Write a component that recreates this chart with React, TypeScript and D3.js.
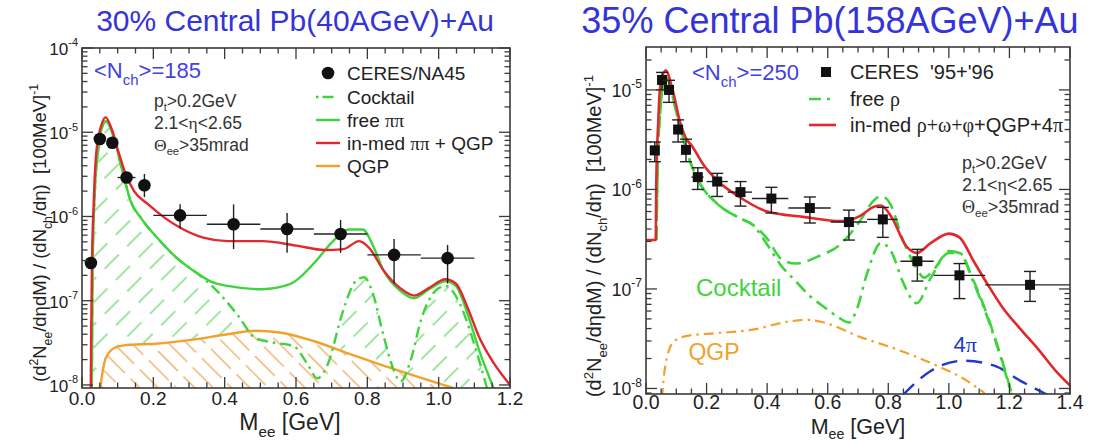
import React from 'react';
import * as d3 from 'd3';

type Pt = [number, number];

const SANS = "'Liberation Sans', Arial, Helvetica, sans-serif";
const SERIF = "'Liberation Serif', 'Times New Roman', serif";

// ---------- Pb(40 AGeV)+Au : CERES/NA45 ----------
const na45Mass = [0.025, 0.05, 0.085, 0.125, 0.175, 0.275, 0.425, 0.575, 0.725, 0.875, 1.025];
const na45Yield = [2.8e-7, 8.3e-6, 7.5e-6, 2.9e-6, 2.35e-6, 1.03e-6, 8.1e-7, 7.1e-7, 6.2e-7, 3.5e-7, 3.2e-7];
const na45Low = [2.8e-7, 8.3e-6, 7.5e-6, 2.9e-6, 1.7e-6, 7.2e-7, 4.1e-7, 3.7e-7, 3.7e-7, 1.6e-7, 1.6e-7];
const na45High = [2.8e-7, 8.3e-6, 7.5e-6, 2.9e-6, 3.2e-6, 1.4e-6, 1.39e-6, 1.1e-6, 9.1e-7, 5.4e-7, 4.6e-7];
const na45BinLow = [0.025, 0.05, 0.085, 0.1, 0.175, 0.2, 0.35, 0.5, 0.65, 0.8, 0.95];
const na45BinHigh = [0.025, 0.05, 0.085, 0.15, 0.175, 0.35, 0.5, 0.65, 0.8, 0.95, 1.1];

const inMedPiPiQgp40: Pt[] = [
  [0.024, 5e-9], [0.026, 5e-8], [0.028, 2.8e-7], [0.033, 1.5e-6], [0.04, 5.7e-6], [0.054, 1.2e-5],
  [0.066, 1.5e-5], [0.083, 1.1e-5], [0.103, 5.7e-6], [0.122, 3.2e-6], [0.146, 2.0e-6], [0.185, 1.4e-6],
  [0.234, 9.5e-7], [0.282, 7.1e-7], [0.34, 5.6e-7], [0.408, 5.1e-7], [0.505, 5.1e-7], [0.602, 4.5e-7],
  [0.68, 4.0e-7], [0.733, 4.1e-7], [0.777, 5.1e-7], [0.806, 4.2e-7], [0.845, 2.3e-7], [0.893, 1.4e-7],
  [0.932, 1.15e-7], [0.971, 1.4e-7], [1.019, 1.8e-7], [1.048, 1.6e-7], [1.082, 8.1e-8], [1.116, 3.5e-8],
  [1.155, 1.8e-8], [1.2, 1.0e-8],
];
const freePiPi40: Pt[] = [
  [0.027, 5e-9], [0.03, 3e-7], [0.036, 2e-6], [0.045, 6e-6], [0.055, 1.1e-5], [0.067, 1.35e-5],
  [0.088, 9e-6], [0.113, 3.5e-6], [0.137, 1.5e-6], [0.166, 9.5e-7], [0.214, 5.4e-7], [0.263, 3.3e-7],
  [0.311, 2.3e-7], [0.36, 1.7e-7], [0.408, 1.5e-7], [0.505, 1.37e-7], [0.583, 1.57e-7], [0.651, 2.8e-7],
  [0.7, 4.9e-7], [0.748, 7e-7], [0.787, 7e-7], [0.816, 4.5e-7], [0.845, 2.3e-7], [0.893, 1.3e-7],
  [0.932, 1.07e-7], [0.971, 1.35e-7], [1.019, 1.7e-7], [1.048, 1.5e-7], [1.082, 6.8e-8], [1.116, 2.4e-8],
  [1.155, 9e-9],
];
const cocktail40: Pt[] = [
  [0.027, 5e-9], [0.03, 3e-7], [0.036, 2e-6], [0.045, 6e-6], [0.055, 1.1e-5], [0.067, 1.35e-5],
  [0.088, 9e-6], [0.113, 3.5e-6], [0.137, 1.5e-6], [0.166, 9.5e-7], [0.214, 5.4e-7], [0.263, 3.3e-7],
  [0.311, 2.3e-7], [0.33, 2.0e-7], [0.379, 1.3e-7], [0.437, 6.7e-8], [0.486, 3.6e-8], [0.534, 3.2e-8],
  [0.593, 2.9e-8], [0.631, 1.8e-8], [0.66, 1.2e-8], [0.69, 1.8e-8], [0.728, 6.7e-8], [0.767, 1.7e-7],
  [0.791, 1.9e-7], [0.816, 1.2e-7], [0.845, 3.9e-8], [0.874, 1.5e-8], [0.893, 1.1e-8], [0.922, 2e-8],
  [0.951, 6e-8], [0.99, 1.3e-7], [1.019, 1.5e-7], [1.058, 9.5e-8], [1.087, 4.5e-8], [1.116, 1.8e-8],
  [1.136, 9e-9],
];
const qgp40: Pt[] = [
  [0.05, 8e-9], [0.055, 1.2e-8], [0.062, 1.8e-8], [0.075, 2.4e-8], [0.09, 2.75e-8], [0.117, 2.95e-8],
  [0.214, 3.1e-8], [0.311, 3.45e-8], [0.408, 4e-8], [0.486, 4.4e-8], [0.554, 4.2e-8], [0.651, 3.3e-8],
  [0.748, 2.35e-8], [0.845, 1.7e-8], [0.942, 1.25e-8], [1.04, 9.2e-9],
];

// ---------- Pb(158 AGeV)+Au : CERES '95+'96 ----------
const ceresMass = [0.029, 0.053, 0.076, 0.106, 0.132, 0.171, 0.235, 0.312, 0.414, 0.541, 0.67, 0.782, 0.896, 1.035, 1.268];
const ceresYield = [2.47e-6, 1.26e-5, 1.0e-5, 4.0e-6, 2.5e-6, 1.33e-6, 1.2e-6, 9.4e-7, 8.1e-7, 6.5e-7, 4.7e-7, 5.0e-7, 1.9e-7, 1.37e-7, 1.1e-7];
const ceresLow = [1.9e-6, 1.0e-5, 7.5e-6, 3.0e-6, 1.9e-6, 1.0e-6, 8.5e-7, 6.8e-7, 5.8e-7, 4.6e-7, 3.1e-7, 3.3e-7, 1.2e-7, 8e-8, 7.5e-8];
const ceresHigh = [3.0e-6, 1.5e-5, 1.25e-5, 5.0e-6, 3.2e-6, 1.65e-6, 1.45e-6, 1.2e-6, 1.05e-6, 8.4e-7, 6.2e-7, 6.6e-7, 2.5e-7, 1.8e-7, 1.5e-7];
const ceresBinLow = [0.029, 0.053, 0.076, 0.106, 0.132, 0.15, 0.2, 0.27, 0.35, 0.47, 0.61, 0.73, 0.84, 0.95, 1.12];
const ceresBinHigh = [0.029, 0.053, 0.076, 0.106, 0.132, 0.19, 0.27, 0.35, 0.47, 0.61, 0.73, 0.83, 0.95, 1.12, 1.4];

const inMedAll158: Pt[] = [
  [0, 3.1e-7], [0.032, 3.1e-7], [0.034, 1.2e-6], [0.04, 4.5e-6], [0.047, 1.09e-5], [0.065, 1.57e-5],
  [0.088, 1.0e-5], [0.112, 4.8e-6], [0.129, 3.4e-6], [0.153, 2.7e-6], [0.188, 1.8e-6], [0.235, 1.23e-6],
  [0.306, 8.5e-7], [0.4, 6.0e-7], [0.518, 5.3e-7], [0.647, 4.8e-7], [0.706, 5.4e-7], [0.753, 6.7e-7],
  [0.776, 6.9e-7], [0.812, 5.2e-7], [0.859, 2.7e-7], [0.894, 2.3e-7], [0.941, 2.9e-7], [1.0, 3.6e-7],
  [1.035, 3.3e-7], [1.082, 1.9e-7], [1.129, 1.1e-7], [1.176, 6.6e-8], [1.235, 4.0e-8], [1.294, 2.5e-8],
  [1.353, 1.5e-8], [1.41, 1.0e-8],
];
const freeRho158: Pt[] = [
  [0.034, 3.1e-7], [0.04, 2.5e-6], [0.047, 6e-6], [0.055, 1.1e-5], [0.065, 1.4e-5], [0.08, 1.1e-5],
  [0.094, 7.2e-6], [0.118, 3.7e-6], [0.141, 2.1e-6], [0.176, 1.18e-6], [0.235, 7.2e-7], [0.306, 5.2e-7],
  [0.353, 4.4e-7], [0.4, 3.2e-7], [0.447, 2.0e-7], [0.494, 1.8e-7], [0.565, 2.1e-7], [0.647, 2.9e-7],
  [0.706, 4.8e-7], [0.753, 7.8e-7], [0.776, 8.6e-7], [0.806, 7.2e-7], [0.847, 3.2e-7], [0.894, 1.6e-7],
  [0.918, 1.3e-7], [0.953, 1.6e-7], [1.0, 2.4e-7], [1.035, 2.3e-7], [1.082, 1.2e-7], [1.129, 5.2e-8],
  [1.176, 1.9e-8], [1.212, 8e-9],
];
const cocktail158: Pt[] = [
  [0.034, 3.1e-7], [0.04, 2.5e-6], [0.047, 6e-6], [0.055, 1.1e-5], [0.065, 1.4e-5], [0.08, 1.1e-5],
  [0.094, 7.2e-6], [0.118, 3.7e-6], [0.141, 2.1e-6], [0.176, 1.18e-6], [0.235, 7.2e-7], [0.306, 5.2e-7],
  [0.353, 4.4e-7], [0.4, 2.8e-7], [0.447, 1.7e-7], [0.494, 1.2e-7], [0.541, 8.5e-8], [0.588, 6.6e-8],
  [0.635, 5.2e-8], [0.67, 4.6e-8], [0.694, 6e-8], [0.729, 1.4e-7], [0.776, 2.9e-7], [0.812, 2.3e-7],
  [0.847, 1.2e-7], [0.894, 7.2e-8], [0.941, 1.3e-7], [1.0, 2.3e-7], [1.035, 2.3e-7], [1.082, 1.15e-7],
  [1.129, 5e-8], [1.176, 1.85e-8], [1.21, 8e-9],
];
const qgp158: Pt[] = [
  [0.053, 8e-9], [0.06, 1.4e-8], [0.07, 2.1e-8], [0.094, 3.0e-8], [0.141, 3.4e-8], [0.235, 3.6e-8],
  [0.353, 3.9e-8], [0.47, 4.7e-8], [0.53, 4.9e-8], [0.588, 4.6e-8], [0.706, 3.3e-8], [0.824, 2.5e-8],
  [0.941, 1.8e-8], [1.059, 1.2e-8], [1.118, 9e-9],
];
const fourPi158: Pt[] = [
  [0.847, 8.5e-9], [0.94, 1.5e-8], [1.047, 1.9e-8], [1.15, 1.7e-8], [1.235, 1.2e-8], [1.33, 8.5e-9],
];

const C = {
  title: '#3434d8',
  nch: '#4242e0',
  green: '#3ed43e',
  hatchGreen: '#78da78',
  red: '#e2282c',
  orange: '#f2a22c',
  hatchOrange: '#eeae68',
  blue: '#2038d0',
  text: '#333333',
  frame: '#3a3a3a',
};

type LinScale = d3.ScaleLinear<number, number>;
type LogScale = d3.ScaleLogarithmic<number, number>;

function Axes({ xs, ys, xMax, tickFs, labelGap, supFs }: { xs: LinScale; ys: LogScale; xMax: number; tickFs: number; labelGap: number; supFs: number }) {
  const [L, R] = xs.range();
  const [B, T] = ys.range();
  const xt = d3.range(0, Math.round(xMax / 0.05) + 1).map((i) => i * 0.05);
  const isMajor = (v: number) => Math.abs(v / 0.2 - Math.round(v / 0.2)) < 1e-6;
  const [dmin, dmax] = ys.domain();
  const yt: { v: number; major: boolean; e: number }[] = [];
  for (let e = Math.floor(Math.log10(dmin)); e <= Math.ceil(Math.log10(dmax)); e++) {
    for (let k = 1; k <= 9; k++) {
      const v = k * Math.pow(10, e);
      if (v >= dmin * 0.999 && v <= dmax * 1.001) yt.push({ v, major: k === 1, e });
    }
  }
  const stroke = C.frame;
  return (
    <g>
      {xt.map((v, i) => {
        const x = xs(v);
        const len = isMajor(v) ? 11 : 5.5;
        return (
          <g key={'x' + i}>
            <line x1={x} x2={x} y1={B} y2={B - len} stroke={stroke} strokeWidth={1.3} />
            <line x1={x} x2={x} y1={T} y2={T + len} stroke={stroke} strokeWidth={1.3} />
          </g>
        );
      })}
      {yt.map((t, i) => {
        const y = ys(t.v);
        const len = t.major ? 11 : 5.5;
        return (
          <g key={'y' + i}>
            <line x1={L} x2={L + len} y1={y} y2={y} stroke={stroke} strokeWidth={1.3} />
            <line x1={R} x2={R - len} y1={y} y2={y} stroke={stroke} strokeWidth={1.3} />
          </g>
        );
      })}
      <rect x={L} y={T} width={R - L} height={B - T} fill="none" stroke={stroke} strokeWidth={1.6} />
      {xt.filter(isMajor).map((v, i) => (
        <text key={'xl' + i} x={xs(v)} y={B + labelGap} textAnchor="middle" fontSize={tickFs} fill="#222">
          {v.toFixed(1)}
        </text>
      ))}
      {yt.filter((t) => t.major).map((t, i) => (
        <text key={'yl' + i} x={L - 4} y={ys(t.v) + tickFs * 0.36} textAnchor="end" fontSize={tickFs * 0.9} fill="#222">
          <tspan>10</tspan>
          <tspan dy={-tickFs * 0.45} fontSize={supFs}>{'-' + Math.abs(t.e)}</tspan>
        </text>
      ))}
    </g>
  );
}

function YTitle({ x, y, fs }: { x: number; y: number; fs: number }) {
  const s = fs * 0.66;
  const up = fs * 0.42;
  const dn = fs * 0.3;
  return (
    <text transform={`translate(${x},${y}) rotate(-90)`} textAnchor="middle" fontSize={fs} fill="#222">
      <tspan>(d</tspan>
      <tspan dy={-up} fontSize={s}>2</tspan>
      <tspan dy={up}>N</tspan>
      <tspan dy={dn} fontSize={s}>ee</tspan>
      <tspan dy={-dn}>/d</tspan>
      <tspan>η</tspan>
      <tspan>dM) / (dN</tspan>
      <tspan dy={dn} fontSize={s}>ch</tspan>
      <tspan dy={-dn}>/d</tspan>
      <tspan>η)</tspan>
      <tspan dx={fs * 0.55}>[100MeV]</tspan>
      <tspan dy={-up} fontSize={s}>-1</tspan>
    </text>
  );
}

function XTitle({ x, y, fs, subDrop }: { x: number; y: number; fs: number; subDrop: number }) {
  return (
    <text x={x} y={y} textAnchor="middle" fontSize={fs} fill="#222">
      <tspan>M</tspan>
      <tspan dy={fs * subDrop} fontSize={fs * 0.66}>ee</tspan>
      <tspan dy={-fs * subDrop}> [GeV]</tspan>
    </text>
  );
}

function Cuts({ x, y, fs, gap }: { x: number; y: number; fs: number; gap: number }) {
  const s = fs * 0.64;
  const dn = fs * 0.22;
  return (
    <g fontSize={fs} fill={C.text}>
      <text x={x} y={y}>
        <tspan>p</tspan>
        <tspan dy={dn} fontSize={s}>t</tspan>
        <tspan dy={-dn}>&gt;0.2GeV</tspan>
      </text>
      <text x={x} y={y + gap}>
        <tspan>2.1&lt;</tspan>
        <tspan fontFamily={SERIF}>η</tspan>
        <tspan>&lt;2.65</tspan>
      </text>
      <text x={x} y={y + 2 * gap}>
        <tspan fontFamily={SERIF}>Θ</tspan>
        <tspan dy={dn} fontSize={s}>ee</tspan>
        <tspan dy={-dn}>&gt;35mrad</tspan>
      </text>
    </g>
  );
}

function Nch({ x, y, fs, value }: { x: number; y: number; fs: number; value: string }) {
  return (
    <text x={x} y={y} fontSize={fs} fill={C.nch}>
      <tspan>&lt;N</tspan>
      <tspan dy={fs * 0.32} fontSize={fs * 0.68}>ch</tspan>
      <tspan dy={-fs * 0.32}>&gt;={value}</tspan>
    </text>
  );
}

function Panel40() {
  const xs = d3.scaleLinear().domain([0, 1.2]).range([82, 510]);
  const ys = d3.scaleLog().domain([0.92e-8, 1e-4]).range([388, 48]);
  const [B] = ys.range();
  const line = d3.line<Pt>().x((d) => xs(d[0])).y((d) => ys(d[1])).curve(d3.curveMonotoneX);
  const area = d3.area<Pt>().x((d) => xs(d[0])).y0(B + 5).y1((d) => ys(d[1])).curve(d3.curveMonotoneX);
  return (
    <g>
      <defs>
        <clipPath id="clip40">
          <rect x={82} y={48} width={428} height={340} />
        </clipPath>
      </defs>
      <text x={295} y={31} textAnchor="middle" fontSize={30} fill={C.title}>30% Central Pb(40AGeV)+Au</text>
      <g clipPath="url(#clip40)">
        <path d={area(cocktail40) ?? ''} fill="url(#hatchGreen)" />
        <path d={area(qgp40) ?? ''} fill="#fff" />
        <path d={area(qgp40) ?? ''} fill="url(#hatchOrange)" />
        <path d={line(qgp40) ?? ''} fill="none" stroke={C.orange} strokeWidth={2.4} />
        <path d={line(cocktail40) ?? ''} fill="none" stroke={C.green} strokeWidth={2.4} strokeDasharray="11 5 2.5 5" />
        <path d={line(freePiPi40) ?? ''} fill="none" stroke={C.green} strokeWidth={2.4} />
        <path d={line(inMedPiPiQgp40) ?? ''} fill="none" stroke={C.red} strokeWidth={2.4} />
        {na45Mass.map((m, i) => (
          <g key={i} stroke="#222" strokeWidth={1.4}>
            <line x1={xs(na45BinLow[i])} x2={xs(na45BinHigh[i])} y1={ys(na45Yield[i])} y2={ys(na45Yield[i])} />
            <line x1={xs(m)} x2={xs(m)} y1={ys(na45Low[i])} y2={ys(na45High[i])} />
            <circle cx={xs(m)} cy={ys(na45Yield[i])} r={6.3} fill="#111" stroke="none" />
          </g>
        ))}
      </g>
      <Axes xs={xs} ys={ys} xMax={1.2} tickFs={19} labelGap={17} supFs={11} />
      <YTitle x={46} y={233} fs={18.5} />
      <XTitle x={290} y={430} fs={23} subDrop={0.3} />
      <Nch x={94} y={78} fs={22} value="185" />
      <Cuts x={154} y={107} fs={17.5} gap={22} />
      <g fontSize={19} fill="#222">
        <circle cx={328} cy={73} r={6.3} fill="#111" />
        <text x={347} y={80}>CERES/NA45</text>
        <line x1={316} x2={340} y1={97} y2={97} stroke={C.green} strokeWidth={2.4} strokeDasharray="2.5 4 11 20" />
        <text x={347} y={104}>Cocktail</text>
        <line x1={316} x2={340} y1={120} y2={120} stroke={C.green} strokeWidth={2.4} />
        <text x={347} y={127}>
          <tspan>free </tspan>
          <tspan fontFamily={SERIF}>ππ</tspan>
        </text>
        <line x1={316} x2={340} y1={143} y2={143} stroke={C.red} strokeWidth={2.4} />
        <text x={347} y={150}>
          <tspan>in-med </tspan>
          <tspan fontFamily={SERIF}>ππ</tspan>
          <tspan> + QGP</tspan>
        </text>
        <line x1={316} x2={340} y1={166} y2={166} stroke={C.orange} strokeWidth={2.4} />
        <text x={347} y={173}>QGP</text>
      </g>
    </g>
  );
}

function Panel158() {
  const xs = d3.scaleLinear().domain([0, 1.4]).range([646, 1070]);
  const ys = d3.scaleLog().domain([0.88e-8, 2.7e-5]).range([394, 47]);
  const line = d3.line<Pt>().x((d) => xs(d[0])).y((d) => ys(d[1])).curve(d3.curveMonotoneX);
  const cap = 6;
  return (
    <g>
      <defs>
        <clipPath id="clip158">
          <rect x={646} y={47} width={424} height={347} />
        </clipPath>
      </defs>
      <text x={830} y={33} textAnchor="middle" fontSize={36} fill={C.title}>35% Central Pb(158AGeV)+Au</text>
      <g clipPath="url(#clip158)">
        <path d={line(qgp158) ?? ''} fill="none" stroke={C.orange} strokeWidth={2.2} strokeDasharray="10 5 2.5 5" />
        <path d={line(fourPi158) ?? ''} fill="none" stroke={C.blue} strokeWidth={2.4} strokeDasharray="16 9" />
        <path d={line(cocktail158) ?? ''} fill="none" stroke={C.green} strokeWidth={2.6} strokeDasharray="13 6 3 6" />
        <path d={line(freeRho158) ?? ''} fill="none" stroke={C.green} strokeWidth={2.6} strokeDasharray="14 7" />
        <path d={line(inMedAll158) ?? ''} fill="none" stroke={C.red} strokeWidth={2.6} />
        {ceresMass.map((m, i) => {
          const x = xs(m);
          return (
            <g key={i} stroke="#222" strokeWidth={1.4}>
              <line x1={xs(ceresBinLow[i])} x2={xs(ceresBinHigh[i])} y1={ys(ceresYield[i])} y2={ys(ceresYield[i])} />
              <line x1={x} x2={x} y1={ys(ceresLow[i])} y2={ys(ceresHigh[i])} />
              <line x1={x - cap} x2={x + cap} y1={ys(ceresLow[i])} y2={ys(ceresLow[i])} />
              <line x1={x - cap} x2={x + cap} y1={ys(ceresHigh[i])} y2={ys(ceresHigh[i])} />
              <rect x={x - 5} y={ys(ceresYield[i]) - 5} width={10} height={10} fill="#111" stroke="none" />
            </g>
          );
        })}
      </g>
      <Axes xs={xs} ys={ys} xMax={1.4} tickFs={19.5} labelGap={15} supFs={12} />
      <YTitle x={601} y={236} fs={20} />
      <XTitle x={858} y={434} fs={21.5} subDrop={0.22} />
      <Nch x={692} y={80} fs={22} value="250" />
      <g fontSize={20} fill="#222">
        <rect x={821} y={67} width={10} height={10} fill="#111" />
        <text x={850} y={79} style={{ whiteSpace: 'pre' }}>CERES  '95+'96</text>
        <line x1={809} x2={836} y1={99} y2={99} stroke={C.green} strokeWidth={2.6} strokeDasharray="12 6 3 20" />
        <text x={850} y={106}>
          <tspan>free </tspan>
          <tspan fontFamily={SERIF}>ρ</tspan>
        </text>
        <line x1={809} x2={836} y1={125} y2={125} stroke={C.red} strokeWidth={2.6} />
        <text x={850} y={132}>
          <tspan>in-med </tspan>
          <tspan fontFamily={SERIF}>ρ+ω+φ</tspan>
          <tspan>+QGP+4</tspan>
          <tspan fontFamily={SERIF}>π</tspan>
        </text>
      </g>
      <Cuts x={962} y={169} fs={18} gap={22} />
      <text x={xs(0.165)} y={ys(8.5e-8)} fontSize={24} fill={C.green}>Cocktail</text>
      <text x={xs(0.14)} y={ys(1.95e-8)} fontSize={23} fill={C.orange}>QGP</text>
      <text x={xs(1.015)} y={ys(2.35e-8)} fontSize={22} fill={C.blue}>
        <tspan>4</tspan>
        <tspan fontFamily={SERIF}>π</tspan>
      </text>
    </g>
  );
}

export default function App() {
  return (
    <svg
      width={1093}
      height={441}
      viewBox="0 0 1093 441"
      style={{ position: 'absolute', left: 0, top: 0, display: 'block', background: '#fff' }}
      fontFamily={SANS}
    >
      <defs>
        <pattern id="hatchGreen" patternUnits="userSpaceOnUse" width={16} height={32} patternTransform="rotate(45)">
          <line x1={8} x2={8} y1={0} y2={20} stroke={C.hatchGreen} strokeWidth={1.4} />
        </pattern>
        <pattern id="hatchOrange" patternUnits="userSpaceOnUse" width={13} height={36} patternTransform="rotate(-45)">
          <line x1={6.5} x2={6.5} y1={0} y2={28} stroke={C.hatchOrange} strokeWidth={1.4} />
        </pattern>
      </defs>
      <rect width={1093} height={441} fill="#fff" />
      <Panel40 />
      <Panel158 />
    </svg>
  );
}
